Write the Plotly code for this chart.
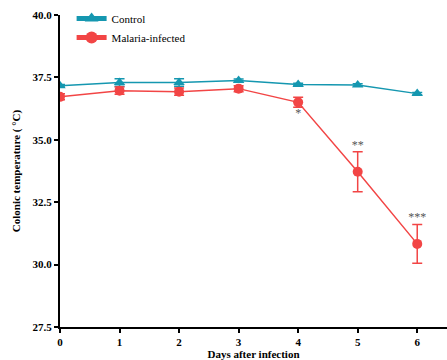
import plotly.graph_objects as go

days = [0, 1, 2, 3, 4, 5, 6]
control = [37.17, 37.3, 37.3, 37.38, 37.22, 37.2, 36.85]
control_err = [0.05, 0.15, 0.15, 0.06, 0.05, 0.05, 0.05]
malaria = [36.72, 36.97, 36.93, 37.05, 36.5, 33.72, 30.83]
malaria_err = [0.12, 0.15, 0.15, 0.12, 0.2, 0.8, 0.78]
sig_days = [4, 5, 6]
sig_labels = ["*", "**", "***"]
sig_y = [36.05, 34.75, 31.85]

teal = "#1597B0"
red = "#F24545"

fig = go.Figure()
fig.add_trace(go.Scatter(
    x=days, y=control, name="Control", mode="lines+markers",
    line=dict(color=teal, width=1.5),
    marker=dict(symbol="triangle-up", size=10, color=teal),
    error_y=dict(type="data", array=control_err, color=teal, thickness=1.5, width=5),
))
fig.add_trace(go.Scatter(
    x=days, y=malaria, name="Malaria-infected", mode="lines+markers",
    line=dict(color=red, width=1.5),
    marker=dict(symbol="circle", size=10, color=red),
    error_y=dict(type="data", array=malaria_err, color=red, thickness=1.5, width=5),
))
fig.add_trace(go.Scatter(
    x=sig_days, y=sig_y, mode="text", text=sig_labels, showlegend=False,
    textfont=dict(family="Liberation Serif", size=12, color="#555555"),
    hoverinfo="skip",
))

axis_font = dict(family="Liberation Serif", size=11, color="black")
fig.update_layout(
    width=447, height=360,
    margin=dict(l=60, r=0, t=15, b=33),
    plot_bgcolor="white", paper_bgcolor="white",
    showlegend=True,
    legend=dict(x=0.03, y=1.035, xanchor="left", yanchor="top",
                font=dict(family="Liberation Serif", size=11, color="black"),
                bgcolor="rgba(0,0,0,0)", tracegroupgap=0, itemsizing="constant"),
    xaxis=dict(range=[0, 6.5], tickvals=days, ticktext=[f"<b>{d}</b>" for d in days],
               showline=True, linecolor="black", linewidth=2, ticks="outside",
               ticklen=4, tickwidth=2, tickcolor="black", showgrid=False, zeroline=False,
               tickfont=axis_font,
               title=dict(text="<b>Days after infection</b>", font=axis_font, standoff=4)),
    yaxis=dict(range=[27.5, 40.0], tickvals=[27.5, 30.0, 32.5, 35.0, 37.5, 40.0],
               ticktext=["<b>27.5</b>", "<b>30.0</b>", "<b>32.5</b>", "<b>35.0</b>", "<b>37.5</b>", "<b>40.0</b>"],
               showline=True, linecolor="black", linewidth=2, ticks="outside",
               ticklen=4, tickwidth=2, tickcolor="black", showgrid=False, zeroline=False,
               tickfont=axis_font,
               title=dict(text="<b>Colonic temperature ( °C)</b>", font=axis_font, standoff=10)),
)
fig.write_html("out.html")
